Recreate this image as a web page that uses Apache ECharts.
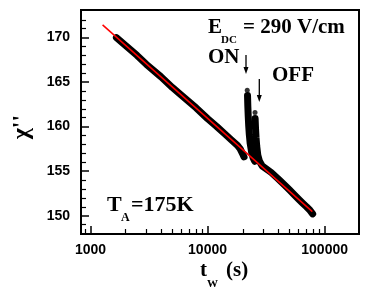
<!DOCTYPE html>
<html>
<head>
<meta charset="utf-8">
<script src="https://cdn.jsdelivr.net/npm/echarts@6/dist/echarts.min.js"></script>
<style>html,body{margin:0;padding:0;background:#fff}#c{width:374px;height:303px}</style>
</head>
<body>
<div id="c"></div>
<script>
// ---- data ----
// before field ON
const twBefore  = [1666, 2000, 2500, 3000, 4000, 5000, 6000, 8000, 10000, 12000, 14000, 16000, 18000, 19000, 20000, 20500];
const chiBefore = [170.0, 169.1, 168.0, 167.0, 165.6, 164.4, 163.5, 162.1, 160.9, 160.0, 159.2, 158.5, 157.9, 157.5, 156.9, 156.6];
// field ON branch
const twOn  = [21950, 22080, 22250, 22470, 22740, 23140, 23740, 24460, 25300];
const chiOn = [163.5, 162.3, 161.2, 160.1, 159.1, 158.1, 157.2, 156.5, 156.1];
// field OFF branch and after
const twOff  = [25490, 25690, 25940, 26300, 26870, 27790, 29210, 30000, 35000, 40000, 45000, 50000, 55000, 60000, 65000, 70000, 75000, 79000];
const chiOff = [160.9, 159.8, 158.8, 157.8, 156.8, 156.1, 155.6, 155.5, 154.85, 154.15, 153.5, 152.9, 152.35, 151.85, 151.4, 151.0, 150.6, 150.2];
// first points of the jumps
const twJump  = [21830, 25440];
const chiJump = [164.1, 161.6];
// fitted straight line (log t)
const twFit  = [1269, 78500];
const chiFit = [171.43, 150.45];

// axes
const xMin = 830, xMax = 196600, yMin = 147.94, yMax = 173.1;
const xMajor = [1000, 10000, 100000];
const xMinor = [900, 2000, 3000, 4000, 5000, 6000, 7000, 8000, 9000, 20000, 30000, 40000, 50000, 60000, 70000, 80000, 90000];
const yMajor = [150, 155, 160, 165, 170];
const yMinor = [149, 151, 152, 153, 154, 156, 157, 158, 159, 161, 162, 163, 164, 166, 167, 168, 169, 171, 172];

const pairs = (xs, ys) => xs.map((x, i) => [x, ys[i]]);
const serif = '"Liberation Serif", "Times New Roman", serif';
const sans = '"Liberation Sans", Arial, sans-serif';

const chart = echarts.init(document.getElementById('c'), null, {renderer: 'canvas'});
const txt = (text, x, y, size) => ({
  type: 'text', x: x, y: y, z: 100,
  style: {text: text, font: 'bold ' + size + 'px ' + serif, fill: '#000', textAlign: 'left', textVerticalAlign: 'middle'}
});
const band = {color: '#000', width: 7, cap: 'round', join: 'round'};

chart.setOption({
  animation: false,
  backgroundColor: '#fff',
  grid: {left: 81, top: 10, width: 278, height: 224, show: true, borderColor: '#000', borderWidth: 2, backgroundColor: 'transparent'},
  xAxis: [{
    type: 'log', logBase: 10, min: xMin, max: xMax, position: 'bottom',
    axisLine: {show: true, lineStyle: {color: '#000', width: 2}},
    axisTick: {show: true, inside: true, length: 8, lineStyle: {color: '#000', width: 1.5}, customValues: xMajor},
    axisLabel: {show: true, customValues: xMajor, formatter: v => String(Math.round(v)), margin: 9, color: '#000', fontSize: 14, fontWeight: 'bold', fontFamily: sans},
    splitLine: {show: false}, minorTick: {show: false}
  }, {
    type: 'log', logBase: 10, min: xMin, max: xMax, position: 'bottom', gridIndex: 0,
    axisLine: {show: false},
    axisTick: {show: true, inside: true, length: 5, lineStyle: {color: '#000', width: 1.2}, customValues: xMinor},
    axisLabel: {show: false}, splitLine: {show: false}
  }],
  yAxis: [{
    type: 'value', min: yMin, max: yMax, position: 'left',
    axisLine: {show: true, lineStyle: {color: '#000', width: 2}},
    axisTick: {show: true, inside: true, length: 8, lineStyle: {color: '#000', width: 1.5}, customValues: yMajor},
    axisLabel: {show: true, customValues: yMajor, formatter: v => String(Math.round(v)), margin: 11, color: '#000', fontSize: 14, fontWeight: 'bold', fontFamily: sans},
    splitLine: {show: false}
  }, {
    type: 'value', min: yMin, max: yMax, position: 'left', gridIndex: 0,
    axisLine: {show: false},
    axisTick: {show: true, inside: true, length: 5, lineStyle: {color: '#000', width: 1.2}, customValues: yMinor},
    axisLabel: {show: false}, splitLine: {show: false}
  }],
  series: [
    {type: 'line', data: pairs(twBefore, chiBefore), showSymbol: false, lineStyle: band, z: 2},
    {type: 'line', data: pairs(twOn, chiOn), showSymbol: false, lineStyle: band, z: 2},
    {type: 'line', data: pairs(twOff, chiOff), showSymbol: false, lineStyle: band, z: 2},
    {type: 'scatter', data: pairs(twJump, chiJump), symbol: 'circle', symbolSize: 5, itemStyle: {color: '#000'}, z: 3},
    {type: 'line', data: pairs(twFit, chiFit), showSymbol: false, lineStyle: {color: '#ff0000', width: 1.5}, z: 4}
  ],
  graphic: [
    {type: 'text', x: 22, y: 127, rotation: Math.PI / 2, z: 100,
     style: {text: "\u03c7''", font: 'bold 24px ' + serif, fill: '#000', textAlign: 'center', textVerticalAlign: 'middle'}},
    txt('t', 200, 271, 21),
    txt('W', 207, 284, 11),
    txt('(s)', 226, 271, 21),
    txt('E', 208, 28, 21),
    txt('DC', 221, 40, 11),
    txt('= 290 V/cm', 243, 28, 21),
    txt('ON', 208, 58, 21),
    txt('OFF', 272, 76, 21),
    txt('T', 107, 205, 22),
    txt('A', 121, 217.5, 12),
    txt('=175K', 131, 205, 22),
    {type: 'line', z: 100, shape: {x1: 246, y1: 55, x2: 246, y2: 68}, style: {stroke: '#000', lineWidth: 1.3}},
    {type: 'polygon', z: 100, shape: {points: [[243.5, 67], [248.5, 67], [246, 74]]}, style: {fill: '#000'}},
    {type: 'line', z: 100, shape: {x1: 259.3, y1: 79, x2: 259.3, y2: 95}, style: {stroke: '#000', lineWidth: 1.3}},
    {type: 'polygon', z: 100, shape: {points: [[256.8, 95], [261.8, 95], [259.3, 102]]}, style: {fill: '#000'}}
  ]
});
</script>
</body>
</html>
